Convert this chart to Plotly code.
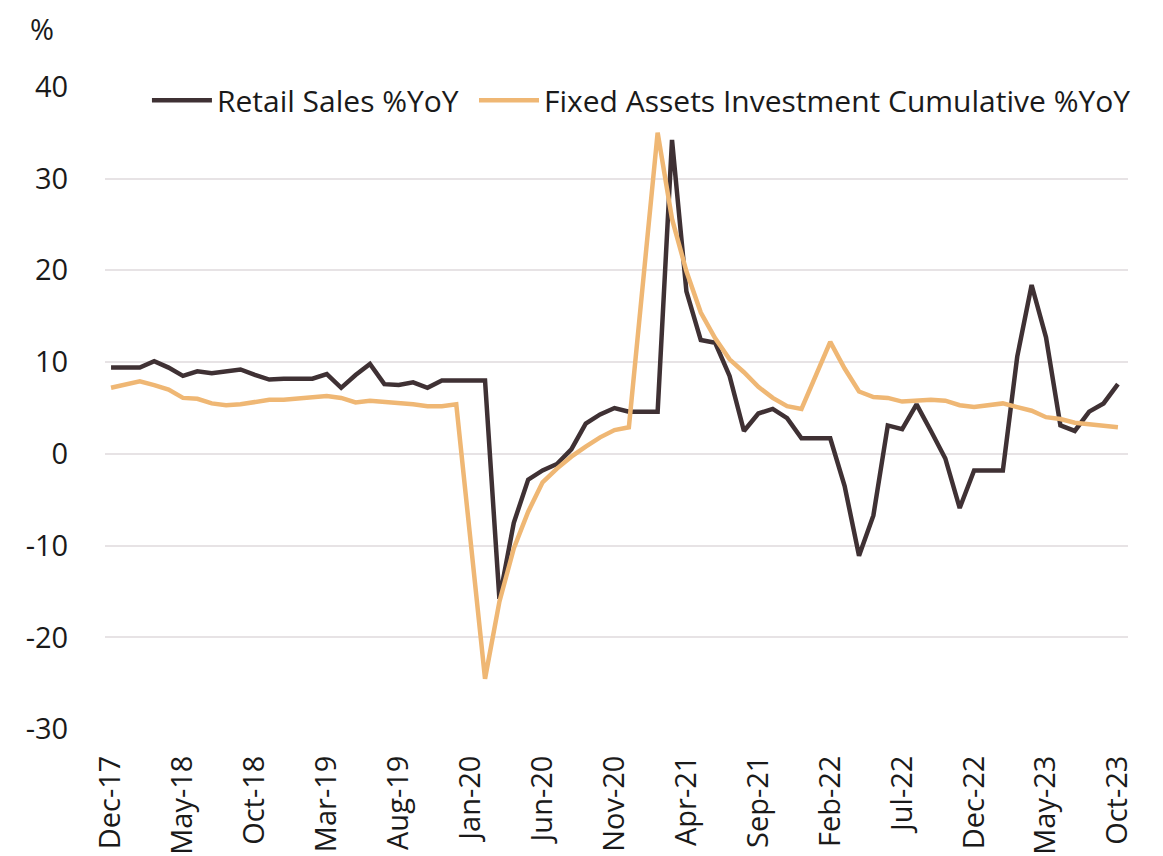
import plotly.graph_objects as go

months = ["Dec-17","Jan-18","Feb-18","Mar-18","Apr-18","May-18","Jun-18","Jul-18","Aug-18","Sep-18","Oct-18","Nov-18",
          "Dec-18","Jan-19","Feb-19","Mar-19","Apr-19","May-19","Jun-19","Jul-19","Aug-19","Sep-19","Oct-19","Nov-19",
          "Dec-19","Jan-20","Feb-20","Mar-20","Apr-20","May-20","Jun-20","Jul-20","Aug-20","Sep-20","Oct-20","Nov-20",
          "Dec-20","Jan-21","Feb-21","Mar-21","Apr-21","May-21","Jun-21","Jul-21","Aug-21","Sep-21","Oct-21","Nov-21",
          "Dec-21","Jan-22","Feb-22","Mar-22","Apr-22","May-22","Jun-22","Jul-22","Aug-22","Sep-22","Oct-22","Nov-22",
          "Dec-22","Jan-23","Feb-23","Mar-23","Apr-23","May-23","Jun-23","Jul-23","Aug-23","Sep-23","Oct-23"]

retail_sales = [9.4, 9.4, 9.4, 10.1, 9.4, 8.5, 9.0, 8.8, 9.0, 9.2, 8.6, 8.1,
                8.2, 8.2, 8.2, 8.7, 7.2, 8.6, 9.8, 7.6, 7.5, 7.8, 7.2, 8.0,
                8.0, 8.0, 8.0, -15.8, -7.5, -2.8, -1.8, -1.1, 0.5, 3.3, 4.3, 5.0,
                4.6, 4.6, 4.6, 34.2, 17.7, 12.4, 12.1, 8.5, 2.5, 4.4, 4.9, 3.9,
                1.7, 1.7, 1.7, -3.5, -11.1, -6.7, 3.1, 2.7, 5.4, 2.5, -0.5, -5.9,
                -1.8, -1.8, -1.8, 10.6, 18.4, 12.7, 3.1, 2.5, 4.6, 5.5, 7.6]

fai_cumulative = [7.2, None, 7.9, 7.5, 7.0, 6.1, 6.0, 5.5, 5.3, 5.4, 5.7, 5.9,
                  5.9, None, 6.1, 6.3, 6.1, 5.6, 5.8, 5.7, 5.5, 5.4, 5.2, 5.2,
                  5.4, None, -24.5, -16.1, -10.3, -6.3, -3.1, -1.6, -0.3, 0.8, 1.8, 2.6,
                  2.9, None, 35.0, 25.6, 19.9, 15.4, 12.6, 10.3, 8.9, 7.3, 6.1, 5.2,
                  4.9, None, 12.2, 9.3, 6.8, 6.2, 6.1, 5.7, 5.8, 5.9, 5.8, 5.3,
                  5.1, None, 5.5, 5.1, 4.7, 4.0, 3.8, 3.4, 3.2, 3.1, 2.9]

y_ticks = [-30, -20, -10, 0, 10, 20, 30, 40]
y_ticktext = ["-30", "-20", "-10", "0", "10", "20", "30", "40"]

x_idx = list(range(len(months)))
x_tick_idx = x_idx[::5]
x_tick_text = months[::5]

FONT = "Open Sans"
TXT = "#1a1a1a"
FS = 29

fig = go.Figure()
fig.add_trace(go.Scatter(x=x_idx, y=retail_sales, mode="lines", name="Retail Sales %YoY",
                         legend="legend",
                         line=dict(color="#3f3134", width=4.5)))
fig.add_trace(go.Scatter(x=x_idx, y=fai_cumulative, mode="lines", connectgaps=True,
                         name="Fixed Assets Investment Cumulative %YoY", legend="legend2",
                         line=dict(color="#efb774", width=4.5)))

leg_common = dict(orientation="h", y=0.978, xanchor="left", yanchor="middle",
                  font=dict(family=FONT, size=30, color=TXT), bgcolor="rgba(0,0,0,0)",
                  itemwidth=60)

fig.update_layout(
    width=1155, height=848,
    margin=dict(l=97, r=35, t=78, b=126, autoexpand=False),
    paper_bgcolor="white", plot_bgcolor="white",
    font=dict(family=FONT, size=FS, color=TXT),
    showlegend=True,
    legend=dict(x=0.041, **leg_common),
    legend2=dict(x=0.3607, **leg_common),
    xaxis=dict(range=[-0.42, 70.7], tickvals=x_tick_idx, ticktext=x_tick_text, tickangle=-90,
               showgrid=False, zeroline=False, showline=False, automargin=False,
               ticks="outside", ticklen=13, tickcolor="rgba(0,0,0,0)",
               tickfont=dict(family=FONT, size=FS, color=TXT)),
    yaxis=dict(range=[-30.08, 40.08], tickvals=y_ticks, ticktext=y_ticktext,
               showgrid=True, gridcolor="#e7e3e5", gridwidth=2, zeroline=False, showline=False,
               automargin=False,
               ticks="outside", ticklen=30, tickcolor="rgba(0,0,0,0)",
               tickfont=dict(family=FONT, size=FS, color=TXT)),
    annotations=[dict(text="%", xref="paper", yref="paper", x=-0.0743, y=1.089,
                      xanchor="left", yanchor="middle", showarrow=False, borderpad=0,
                      font=dict(family=FONT, size=FS, color=TXT))],
)

fig.write_html("out.html")
